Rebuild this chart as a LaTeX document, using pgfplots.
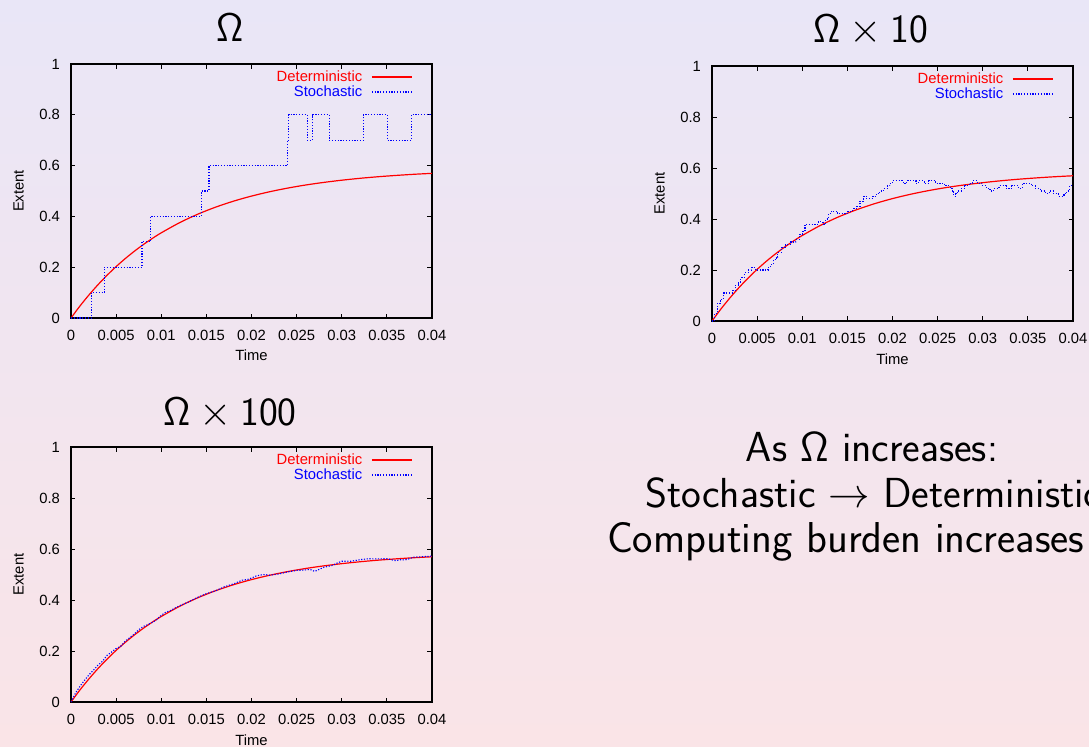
\documentclass[border=0pt]{standalone}
\usepackage{fontspec}
\usepackage{pgfplots}
\pgfplotsset{compat=1.18}
\newfontfamily\arial{Liberation Sans}
\definecolor{bgtop}{RGB}{233,230,247}
\definecolor{bgbot}{RGB}{250,228,231}
\definecolor{gpred}{RGB}{255,0,0}
\definecolor{gpblue}{RGB}{0,0,255}

\pgfplotstableread{
t v
0 0
0.001 0.0476
0.002 0.0912
0.003 0.1314
0.004 0.1684
0.005 0.2024
0.006 0.2336
0.007 0.2623
0.008 0.2887
0.009 0.3130
0.010 0.3353
0.012 0.3747
0.014 0.4080
0.016 0.4361
0.018 0.4599
0.020 0.4800
0.022 0.4970
0.024 0.5114
0.026 0.5236
0.028 0.5338
0.030 0.5425
0.032 0.5499
0.034 0.5561
0.036 0.5613
0.038 0.5658
0.040 0.5695
}\detdata

\pgfplotstableread{
t v
0 0
0.00229 0.1
0.00369 0.2
0.00787 0.3
0.00883 0.4
0.01444 0.5
0.01529 0.6
0.02397 0.7
0.02412 0.8
0.02619 0.7
0.02678 0.8
0.02862 0.7
0.03239 0.8
0.03505 0.7
0.03771 0.8
0.04 0.8
}\stocha

\pgfplotstableread{
t v
0 0
0.0003 0.03
0.0006 0.07
0.0009 0.08
0.0011 0.09
0.0013 0.11
0.0023 0.12
0.0026 0.14
0.0029 0.15
0.0032 0.17
0.0036 0.19
0.0040 0.20
0.0044 0.21
0.0048 0.20
0.0062 0.21
0.0065 0.22
0.0068 0.24
0.0071 0.25
0.0073 0.27
0.0077 0.29
0.0081 0.30
0.0087 0.31
0.0093 0.32
0.0097 0.34
0.0100 0.35
0.0103 0.38
0.0118 0.39
0.0123 0.38
0.0126 0.40
0.0129 0.42
0.0132 0.43
0.0139 0.42
0.0150 0.43
0.0156 0.44
0.0160 0.45
0.0164 0.47
0.0168 0.49
0.0171 0.48
0.0178 0.49
0.0182 0.50
0.0186 0.51
0.0190 0.52
0.0194 0.53
0.0197 0.54
0.0200 0.55
0.0212 0.54
0.0216 0.55
0.0226 0.54
0.0229 0.55
0.0235 0.54
0.0240 0.55
0.0248 0.54
0.0258 0.53
0.0264 0.52
0.0266 0.51
0.0268 0.49
0.0270 0.50
0.0272 0.51
0.0276 0.52
0.0280 0.53
0.0285 0.54
0.0289 0.55
0.0294 0.54
0.0299 0.53
0.0304 0.52
0.0308 0.51
0.0312 0.52
0.0318 0.53
0.0326 0.52
0.0332 0.53
0.0340 0.52
0.0344 0.54
0.0354 0.53
0.0358 0.52
0.0364 0.51
0.0370 0.50
0.0374 0.51
0.0378 0.50
0.0384 0.49
0.0390 0.50
0.0393 0.51
0.0396 0.53
0.0400 0.53
}\stochb

\pgfplotstableread{
t v
0 0
0.0005 0.035
0.001 0.062
0.0015 0.085
0.002 0.107
0.0025 0.125
0.003 0.145
0.0035 0.16
0.004 0.183
0.0045 0.196
0.005 0.21
0.0055 0.218
0.006 0.238
0.0065 0.252
0.007 0.266
0.0075 0.283
0.008 0.296
0.0085 0.303
0.009 0.312
0.0095 0.323
0.010 0.34
0.0105 0.352
0.011 0.358
0.0115 0.368
0.012 0.377
0.013 0.392
0.014 0.41
0.015 0.425
0.016 0.436
0.017 0.452
0.018 0.463
0.019 0.478
0.0195 0.48
0.020 0.486
0.0205 0.494
0.021 0.498
0.0215 0.5
0.022 0.497
0.023 0.502
0.024 0.51
0.025 0.516
0.026 0.518
0.0265 0.52
0.027 0.512
0.0275 0.52
0.028 0.528
0.029 0.536
0.0295 0.545
0.030 0.552
0.031 0.552
0.032 0.558
0.033 0.562
0.034 0.561
0.035 0.562
0.0355 0.558
0.036 0.554
0.0365 0.558
0.037 0.557
0.0375 0.562
0.038 0.568
0.039 0.57
0.040 0.572
}\stochc

\pgfplotsset{
  gp/.style={
    scale only axis, width=180.5pt, height=127pt,
    xmin=0, xmax=0.04, ymin=0, ymax=1,
    xtick={0,0.005,0.01,0.015,0.02,0.025,0.03,0.035,0.04},
    xticklabels={0,0.005,0.01,0.015,0.02,0.025,0.03,0.035,0.04},
    ytick={0,0.2,0.4,0.6,0.8,1},
    yticklabels={0,0.2,0.4,0.6,0.8,1},
    scaled ticks=false,
    tick align=inside, major tick length=2.25pt,
    every tick/.style={black, line width=0.5pt},
    axis line style={black, line width=0.6pt},
    ticklabel style={font=\arial\fontsize{7.4}{8}\selectfont},
    xticklabel style={yshift=-2.3pt},
    yticklabel style={xshift=-2pt},
    label style={font=\arial\fontsize{7.4}{8}\selectfont},
    xlabel={Time}, ylabel={Extent},
    ylabel style={at={(axis description cs:-0.1454,0.5)}, rotate=0, anchor=center},
    xlabel style={at={(axis description cs:0.5,-0.148)}, anchor=center},
    legend plot pos=right,
    legend cell align=right,
    legend style={draw=none, fill=none, inner sep=0pt, at={(axis description cs:0.947,0.98)}, anchor=north east,
      font=\arial\fontsize{7.4}{8}\selectfont, row sep=0pt, column sep=4pt,
      nodes={inner sep=0.5pt, text height=5.3pt, text depth=1.2pt}},
    det/.style={gpred, line width=0.6pt, smooth,
      legend image code/.code={\draw[gpred, line width=0.6pt] (0pt,0pt) -- (20pt,0pt);}},
    sto/.style={gpblue, line width=0.55pt, dash pattern=on 0.6pt off 0.8pt,
      legend image code/.code={\draw[gpblue, line width=0.55pt, dash pattern=on 0.6pt off 0.8pt] (0pt,0pt) -- (20pt,0pt);}},
  }
}

\begin{document}
\begin{tikzpicture}
\useasboundingbox (0,0) rectangle (544.5pt,373pt);
\shade[top color=bgtop, bottom color=bgbot] (0,0) rectangle (544.5pt,373pt);
\clip (0,0) rectangle (544.5pt,373pt);

% titles
\node[font=\sffamily\fontsize{20}{23}\selectfont, anchor=base] at (115pt,352pt) {Ω};
\node[font=\sffamily\fontsize{20}{23}\selectfont, anchor=base] at (435.5pt,351.5pt) {Ω\hspace{0.22em}$\times$\hspace{0.22em}10};
\node[font=\sffamily\fontsize{20}{23}\selectfont, anchor=base] at (115pt,160.5pt) {Ω\hspace{0.22em}$\times$\hspace{0.22em}100};

% text block
\node[font=\sffamily\fontsize{21}{24}\selectfont, anchor=base] at (436pt,142.5pt) {As Ω increases:};
\node[font=\sffamily\fontsize{21}{24}\selectfont, anchor=base west, inner xsep=0pt] at (322.5pt,119.5pt) {Stochastic $\rightarrow$ Deterministic};
\node[font=\sffamily\fontsize{21.6}{24}\selectfont, anchor=base west, inner xsep=0pt] at (303.3pt,96.5pt) {Computing burden increases};

% plot 1
\begin{axis}[gp, at={(35.5pt,214pt)}, anchor=south west]
\addplot[det] table[x=t,y=v] {\detdata};
\addlegendentry{\textcolor{gpred}{Deterministic}}
\addplot[sto, const plot] table[x=t,y=v] {\stocha};
\addlegendentry{\textcolor{gpblue}{Stochastic}}
\end{axis}

% plot 2
\begin{axis}[gp, height=127.5pt, at={(356pt,212.5pt)}, anchor=south west]
\addplot[det] table[x=t,y=v] {\detdata};
\addlegendentry{\textcolor{gpred}{Deterministic}}
\addplot[sto, const plot] table[x=t,y=v] {\stochb};
\addlegendentry{\textcolor{gpblue}{Stochastic}}
\end{axis}

% plot 3
\begin{axis}[gp, height=127.5pt, at={(35.5pt,22pt)}, anchor=south west]
\addplot[det] table[x=t,y=v] {\detdata};
\addlegendentry{\textcolor{gpred}{Deterministic}}
\addplot[sto] table[x=t,y=v] {\stochc};
\addlegendentry{\textcolor{gpblue}{Stochastic}}
\end{axis}
\end{tikzpicture}
\end{document}
